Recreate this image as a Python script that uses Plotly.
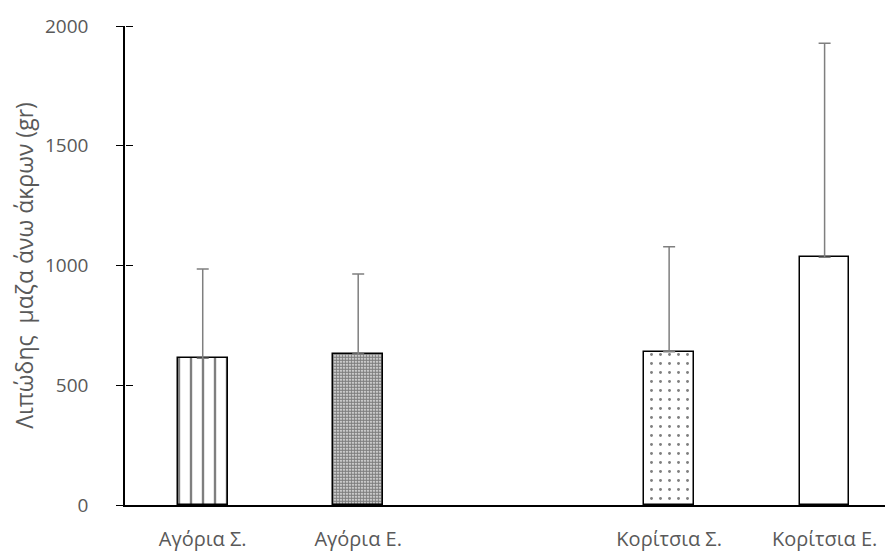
import plotly.graph_objects as go

categories = ["Αγόρια Σ.", "Αγόρια Ε.", " ", "Κορίτσια Σ.", "Κορίτσια Ε."]
means = [613, 631, None, 640, 1034]
sds = [372, 334, None, 438, 894]
patterns = ["|", ".", "", ".", ""]
y_ticks = [0, 500, 1000, 1500, 2000]

FONT = "Open Sans"
GREY = "#595959"

fig = go.Figure()
fig.add_trace(go.Bar(
    x=categories, y=means,
    width=0.32,
    marker=dict(
        color="white",
        line=dict(color="black", width=1.5),
        pattern=dict(shape=patterns, fgcolor="black", bgcolor="white",
                     size=[12, 3, 9, 9, 9], solidity=[0.2, 0.75, 0.1, 0.08, 0.2],
                     fillmode="overlay"),
    ),
    error_y=dict(type="data", array=sds, symmetric=False, arrayminus=[0]*5,
                 color="#7f7f7f", thickness=1.5, width=6),
    showlegend=False,
))
fig.add_trace(go.Scatter(x=[], y=[], yaxis="y2", showlegend=False))

fig.update_layout(
    width=885, height=545,
    margin=dict(l=117, r=0, t=18, b=48),
    plot_bgcolor="white", paper_bgcolor="white",
    font=dict(family=FONT, color=GREY, size=18),
    bargap=0,
    xaxis=dict(
        type="category", categoryorder="array", categoryarray=categories,
        range=[-0.5, 4.44],
        showline=True, linecolor="black", linewidth=1.5,
        ticks="", showgrid=False,
        tickfont=dict(family=FONT, size=20, color=GREY),
        ticklabelstandoff=15,
    ),
    yaxis=dict(
        range=[0, 2000], tickvals=y_ticks,
        showline=True, linecolor="black", linewidth=1.5,
        ticks="outside", ticklen=7, tickwidth=1.3, tickcolor="black",
        showgrid=False, zeroline=False,
        tickfont=dict(family=FONT, size=19, color=GREY),
        ticklabelstandoff=24,
        title=dict(text="Λιπώδης  μαζα άνω άκρων (gr)",
                   font=dict(family=FONT, size=23, color=GREY), standoff=8),
    ),
    yaxis2=dict(
        overlaying="y", side="right", anchor="free", position=0,
        range=[0, 2000], tickvals=y_ticks,
        ticks="outside", ticklen=7, tickwidth=1.3, tickcolor="black",
        showticklabels=False, showgrid=False, zeroline=False, showline=False,
    ),
)

fig.write_html("out.html")
